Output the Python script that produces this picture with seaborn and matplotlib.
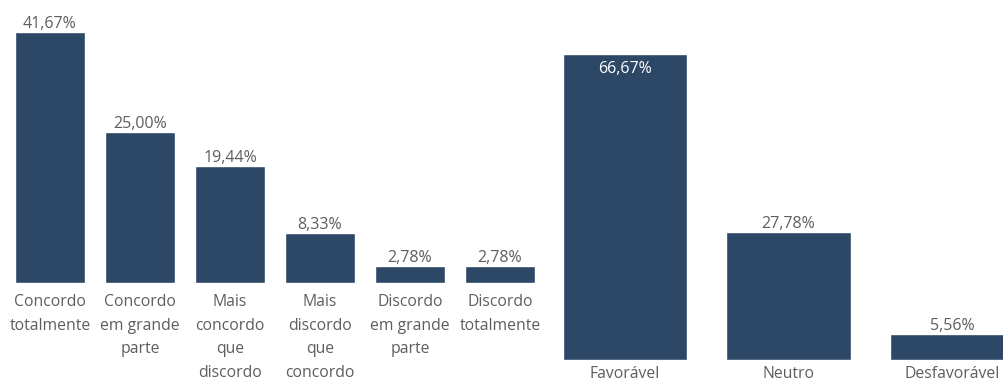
import seaborn as sns
import matplotlib.pyplot as plt

# Data
left_labels = ['Concordo\ntotalmente', 'Concordo\nem grande\nparte',
               'Mais\nconcordo\nque\ndiscordo', 'Mais\ndiscordo\nque\nconcordo',
               'Discordo\nem grande\nparte', 'Discordo\ntotalmente']
left_values = [41.67, 25.00, 19.44, 8.33, 2.78, 2.78]

right_labels = ['Favorável', 'Neutro', 'Desfavorável']
right_values = [66.67, 27.78, 5.56]

bar_color = '#2C4866'
text_color = '#605E5C'

sns.set_style('white')
plt.rcParams['font.family'] = ['Open Sans', 'DejaVu Sans']

fig = plt.figure(figsize=(10.04, 3.81), dpi=100)
W, H = 1004, 381


def make_axes(x0, x1, ybottom):
    # pixel coordinates -> figure fraction (axes top at figure top)
    return fig.add_axes([x0 / W, (H - ybottom) / H, (x1 - x0) / W, ybottom / H])


def fmt(v):
    return f'{v:.2f}%'.replace('.', ',')


########################################################################
# Left chart
########################################################################
ax1 = make_axes(5, 545, 283)
sns.barplot(x=left_labels, y=left_values, color=bar_color, width=0.78,
            saturation=1, ax=ax1)
ax1.set_ylim(0, 283 / 6.03)
ax1.set_xlim(-0.5, len(left_values) - 0.5)
for p, v in zip(ax1.patches, left_values):
    ax1.annotate(fmt(v), (p.get_x() + p.get_width() / 2, p.get_height()),
                 xytext=(0, 0), textcoords='offset points', ha='center',
                 va='bottom', fontsize=11.5, color=text_color)
ax1.tick_params(axis='x', length=0, pad=8, labelsize=11.3,
                labelcolor=text_color)
for t in ax1.get_xticklabels():
    t.set_linespacing(1.63)
    t.set_verticalalignment('top')

########################################################################
# Right chart
########################################################################
ax2 = make_axes(543, 1034, 360)
sns.barplot(x=right_labels, y=right_values, color=bar_color, width=0.76,
            saturation=1, ax=ax2)
ax2.set_ylim(0, 360 / 4.59)
ax2.set_xlim(-0.5, len(right_values) - 0.5)
for p, v in zip(ax2.patches, right_values):
    inside = v > 60
    ax2.annotate(fmt(v), (p.get_x() + p.get_width() / 2, p.get_height()),
                 xytext=(0, -5 if inside else 0), textcoords='offset points',
                 ha='center', va='top' if inside else 'bottom', fontsize=11.5,
                 color='white' if inside else text_color)
ax2.tick_params(axis='x', length=0, pad=4, labelsize=11.3,
                labelcolor=text_color)

for ax in (ax1, ax2):
    ax.set_yticks([])
    ax.set_xlabel('')
    ax.set_ylabel('')
    sns.despine(ax=ax, left=True, bottom=True)

plt.savefig('out.png', dpi=100)
